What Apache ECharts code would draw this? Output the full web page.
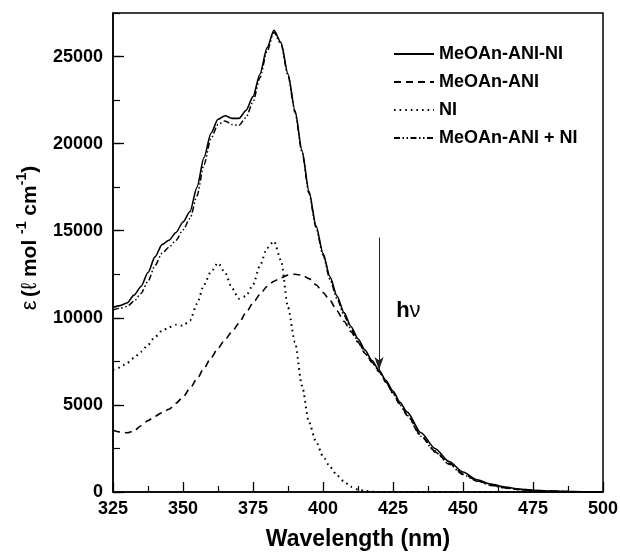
<!DOCTYPE html>
<html>
<head>
<meta charset="utf-8">
<script src="https://cdn.jsdelivr.net/npm/echarts@6/dist/echarts.min.js"></script>
<style>html,body{margin:0;padding:0;background:#fff;}#c{width:620px;height:555px;}</style>
</head>
<body>
<div id="c"></div>
<script>
var wavelengths = [325,327.5,330,332.5,335,337.5,340,342.5,345,347.5,350,352.5,355,357.5,360,362.5,365,367.5,370,372.5,375,377.5,380,382.5,385,387.5,390,392.5,395,397.5,400,402.5,405,407.5,410,412.5,415,417.5,420,422.5,425,427.5,430,435,440,445,450,455,460,465,470,475,480,485,490,495,500];

var triad = [10600,10700,10850,11300,11800,12600,13500,14200,14450,14900,15500,16100,17500,19200,20600,21400,21600,21450,21450,21900,22700,24000,25500,26500,25800,24000,21900,19600,17250,15300,13700,12350,11250,10300,9500,8800,8150,7550,7000,6400,5800,5150,4600,3400,2500,1750,1150,700,450,280,170,100,60,35,20,10,0];

var dyad = [3550,3450,3400,3500,3800,4100,4350,4550,4750,5100,5450,5950,6500,7100,7700,8250,8750,9200,9700,10300,10850,11350,11800,12100,12300,12450,12500,12450,12250,11900,11450,11000,10400,9800,9200,8600,7950,7450,6900,6300,5700,5050,4450,3250,2350,1650,1050,650,400,240,150,90,50,30,15,5,0];

var ni = [7000,7150,7400,7700,8050,8450,8900,9250,9450,9600,9550,9850,10800,11900,12650,13150,12600,11700,11100,11250,11900,13000,14000,14400,13300,10600,8600,6100,4000,2900,2050,1450,950,600,300,140,60,20,0,0,0,0,0,0,0,0,0,0,0,0,0,0,0,0,0,0,0];

var sum = [10450,10550,10650,10950,11400,12100,13000,13700,14050,14450,15050,15700,17000,18800,20300,21100,21300,21100,21050,21500,22400,23800,25300,26400,25700,23900,21800,19500,17150,15200,13600,12200,11100,10150,9350,8650,8000,7450,6950,6300,5650,5000,4400,3200,2300,1600,1000,620,380,230,140,80,50,30,15,5,0];

var seriesNames = ['MeOAn-ANI-NI','MeOAn-ANI','NI','MeOAn-ANI + NI'];
var xTicks = [325,350,375,400,425,450,475,500];
var yTicks = [0,5000,10000,15000,20000,25000];

function pairs(vals){ return wavelengths.map(function(w,i){ return [w, vals[i]]; }); }

var FONT = '"Liberation Sans", Arial, Helvetica, sans-serif';
var chart = echarts.init(document.getElementById('c'), null, {renderer:'canvas'});

var lineTypes = ['solid', [7,5], [1.6,4], [6,2.5,1.5,2.5,1.5,2.5]];
var widths = [1.6, 1.6, 2, 1.5];
var datasets = [triad, dyad, ni, sum];

var series = datasets.map(function(d, i){
  var s = {
    name: seriesNames[i],
    type: 'line',
    data: pairs(d),
    showSymbol: false,
    symbol: 'none',
    smooth: 0.25,
    smoothMonotone: 'x',
    silent: true,
    lineStyle: {color: '#000', width: widths[i], type: lineTypes[i], cap: 'butt'},
    itemStyle: {color: '#000'},
    z: 4 - i
  };
  if (i === 0) {
    s.markLine = {
      silent: true,
      symbol: ['none', 'arrow'],
      symbolSize: [7, 13],
      label: {show: false},
      lineStyle: {color: '#222', width: 1, type: 'solid'},
      data: [[{coord: [420, 14600]}, {coord: [420, 7000]}]]
    };
    s.markPoint = {
      silent: true,
      symbol: 'circle',
      symbolSize: 0,
      label: {
        show: true,
        position: 'inside',
        formatter: '{h|h}{n|ν}',
        rich: {
          h: {fontFamily: FONT, fontWeight: 'bold', fontSize: 22, color: '#000'},
          n: {fontFamily: FONT, fontSize: 22, color: '#000'}
        }
      },
      data: [{coord: [430.5, 10400]}]
    };
  }
  return s;
});

chart.setOption({
  animation: false,
  backgroundColor: '#fff',
  grid: {left: 113, right: 17, top: 13, bottom: 63, outerBoundsMode: 'none', containLabel: false, show: true, borderColor: '#000', borderWidth: 1.5, backgroundColor: 'transparent'},
  legend: {
    orient: 'vertical',
    left: 393,
    top: 45,
    padding: 0,
    itemWidth: 40,
    itemHeight: 14,
    itemGap: 10,
    data: seriesNames,
    itemStyle: {opacity: 0},
    textStyle: {fontFamily: FONT, fontWeight: 'bold', fontSize: 18, lineHeight: 17, color: '#000'},
    selectedMode: false
  },
  xAxis: {
    type: 'value',
    min: 325, max: 500, interval: 25,
    name: 'Wavelength (nm)',
    nameLocation: 'middle',
    nameGap: 36,
    nameTextStyle: {fontFamily: FONT, fontWeight: 'bold', fontSize: 23, color: '#000'},
    axisLine: {show: true, onZero: false, lineStyle: {color: '#000', width: 1.5}},
    axisTick: {show: true, inside: true, length: 10, lineStyle: {color: '#000', width: 1.3}},
    minorTick: {show: true, splitNumber: 2, length: 6, lineStyle: {color: '#000', width: 1.2}},
    splitLine: {show: false},
    axisLabel: {fontFamily: FONT, fontWeight: 'bold', fontSize: 18, color: '#000', margin: 8,
      formatter: function(v){ return xTicks.indexOf(v) >= 0 ? String(v) : ''; }}
  },
  yAxis: [{
    type: 'value',
    min: 0, max: 27500, interval: 5000,
    position: 'left',
    axisLine: {show: true, onZero: false, lineStyle: {color: '#000', width: 1.5}},
    axisTick: {show: true, inside: true, length: 11, lineStyle: {color: '#000', width: 1.3}},
    splitLine: {show: false},
    axisLabel: {fontFamily: FONT, fontWeight: 'bold', fontSize: 18, color: '#000', margin: 10, showMaxLabel: false,
      formatter: function(v){ return yTicks.indexOf(v) >= 0 ? String(v) : ''; }}
  }, {
    type: 'value',
    min: 0, max: 27500, interval: 2500,
    position: 'left',
    axisLine: {show: false},
    axisTick: {show: true, inside: true, length: 7, lineStyle: {color: '#000', width: 1.2}},
    splitLine: {show: false},
    axisLabel: {show: false}
  }],
  graphic: [{
    type: 'text',
    x: 28, y: 238,
    rotation: Math.PI / 2,
    style: {
      text: '{g|ε} {b|(}{g|ℓ}{b| mol }{s|-1}{b| cm}{s|-1}{b|)}',
      rich: {
        g: {fontFamily: FONT, fontSize: 22, fill: '#000', verticalAlign: 'bottom', lineHeight: 26},
        b: {fontFamily: FONT, fontWeight: 'bold', fontSize: 21, fill: '#000', verticalAlign: 'bottom', lineHeight: 26},
        s: {fontFamily: FONT, fontWeight: 'bold', fontSize: 14, fill: '#000', verticalAlign: 'top', lineHeight: 26}
      },
      align: 'center',
      verticalAlign: 'middle'
    }
  }],
  series: series
});
</script>
</body>
</html>
